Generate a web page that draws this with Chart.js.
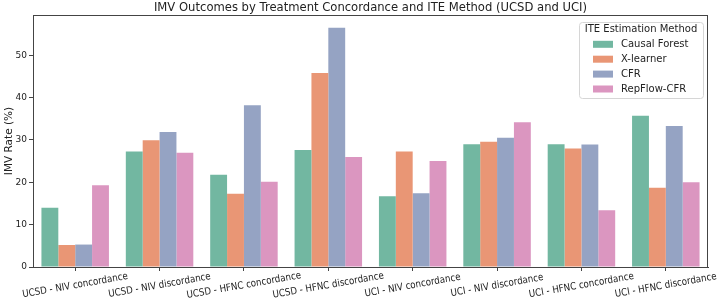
<!DOCTYPE html>
<html>
<head>
<meta charset="utf-8">
<script src="https://cdn.jsdelivr.net/npm/chart.js@4"></script>
<style>
  html, body { margin: 0; padding: 0; background: #fff; }
  #wrap { width: 720px; height: 302px; }
</style>
</head>
<body>
<div id="wrap"><canvas id="myChart" width="720" height="302"></canvas></div>
<script>
var categorias = ['UCSD - NIV concordance', 'UCSD - NIV discordance', 'UCSD - HFNC concordance', 'UCSD - HFNC discordance',
  'UCI - NIV concordance', 'UCI - NIV discordance', 'UCI - HFNC concordance', 'UCI - HFNC discordance'];
var metodos = ['Causal Forest', 'X-learner', 'CFR', 'RepFlow-CFR'];
var causalForest = [14.0, 27.3, 21.8, 27.6, 16.7, 29.0, 29.0, 35.7];
var xLearner     = [5.2, 29.9, 17.3, 45.8, 27.3, 29.6, 28.0, 18.7];
var cfr          = [5.3, 31.9, 38.2, 56.5, 17.4, 30.5, 28.9, 33.3];
var repFlowCfr   = [19.3, 27.0, 20.1, 26.0, 25.0, 34.2, 13.4, 20.0];
var yTicks = [0, 10, 20, 30, 40, 50];
var colores = ['#72b7a1', '#e99675', '#95a3c3', '#db96c0'];

var fuente = 'DejaVu Sans';
var series = [causalForest, xLearner, cfr, repFlowCfr];

var datasets = series.map(function (valores, i) {
  return {
    label: metodos[i],
    data: valores,
    backgroundColor: colores[i],
    borderWidth: 0,
    categoryPercentage: 0.8,
    barPercentage: 1.0
  };
});

// marco, titulo, etiquetas del eje x y leyenda
var extras = {
  id: 'extras',
  afterDraw: function (chart) {
    var ctx = chart.ctx;
    var area = chart.chartArea;
    ctx.save();
    ctx.strokeStyle = '#444';
    ctx.lineWidth = 1;
    ctx.strokeRect(area.left + 0.5, area.top + 0.5, area.right - area.left - 1, area.bottom - area.top);

    ctx.fillStyle = '#222';
    ctx.font = '11.6px "' + fuente + '"';
    ctx.textAlign = 'center';
    ctx.textBaseline = 'middle';
    ctx.fillText('IMV Outcomes by Treatment Concordance and ITE Method (UCSD and UCI)', (area.left + area.right) / 2, 8);

    var xs = chart.scales.x;
    ctx.font = '10px "' + fuente + '"';
    categorias.forEach(function (c, i) {
      var px = xs.getPixelForTick(i);
      ctx.save();
      ctx.translate(px, area.bottom + 18.5);
      ctx.rotate(-10 * Math.PI / 180);
      ctx.scale(0.87, 1);
      ctx.fillText(c, 0, 0);
      ctx.restore();
    });

    // leyenda
    var lx = 579, ly = 22, lw = 124, lh = 76;
    ctx.fillStyle = 'rgba(255,255,255,0.85)';
    ctx.strokeStyle = '#d6d6d6';
    ctx.beginPath();
    ctx.roundRect(lx + 0.5, ly + 0.5, lw, lh, 3);
    ctx.fill();
    ctx.stroke();
    ctx.fillStyle = '#222';
    ctx.font = '10px "' + fuente + '"';
    ctx.textAlign = 'center';
    ctx.fillText('ITE Estimation Method', lx + lw / 2, ly + 7.5);
    ctx.textAlign = 'left';
    chart.data.datasets.forEach(function (ds, i) {
      var y = ly + 22.3 + i * 14.9;
      ctx.fillStyle = ds.backgroundColor;
      ctx.fillRect(lx + 14, y - 3.5, 20, 7);
      ctx.fillStyle = '#222';
      ctx.fillText(ds.label, lx + 42, y);
    });
    ctx.restore();
  }
};

var ctx = document.getElementById('myChart').getContext('2d');
var myChart = new Chart(ctx, {
  type: 'bar',
  data: { labels: categorias, datasets: datasets },
  options: {
    responsive: false,
    animation: false,
    layout: { padding: { top: 15, right: 12, left: 0, bottom: 0 } },
    plugins: {
      legend: { display: false },
      title: { display: false },
      tooltip: { enabled: false }
    },
    scales: {
      x: {
        offset: true,
        grid: { display: true, drawOnChartArea: false, drawTicks: true, tickLength: 4, color: '#444', offset: false },
        border: { display: true, color: '#444', width: 1 },
        ticks: { display: false },
        afterFit: function (scale) { scale.height = 35; }
      },
      y: {
        min: 0,
        max: 59.5,
        grid: { display: true, drawOnChartArea: false, drawTicks: true, tickLength: 4, color: '#444' },
        border: { display: true, color: '#444', width: 1 },
        ticks: { stepSize: 10, color: '#222', padding: 2, font: { family: fuente, size: 9 } },
        afterBuildTicks: function (scale) {
          scale.ticks = yTicks.map(function (v) { return { value: v }; });
        },
        title: { display: true, text: 'IMV Rate (%)', color: '#222', padding: { top: 3, bottom: 0 }, font: { family: fuente, size: 10.5 } },
        afterFit: function (scale) { scale.width = 33; }
      }
    }
  },
  plugins: [extras]
});
</script>
</body>
</html>
